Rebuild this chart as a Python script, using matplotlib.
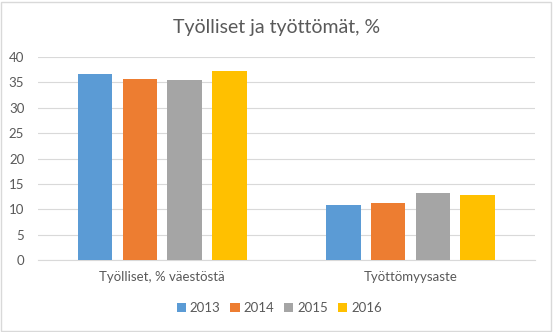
import matplotlib.pyplot as plt
import numpy as np
from matplotlib.patches import Rectangle

categories = ['Työlliset, % väestöstä', 'Työttömyysaste']
years = ['2013', '2014', '2015', '2016']
values_2013 = [36.6, 10.8]
values_2014 = [35.6, 11.3]
values_2015 = [35.4, 13.3]
values_2016 = [37.2, 12.8]
yticks = [0, 5, 10, 15, 20, 25, 30, 35, 40]

series = [values_2013, values_2014, values_2015, values_2016]
colors = ['#5B9BD5', '#ED7D31', '#A5A5A5', '#FFC000']
text_color = '#595959'

plt.rcParams['font.family'] = ['Lato', 'DejaVu Sans']

fig = plt.figure(figsize=(5.53, 3.32), dpi=100)
ax = fig.add_axes([0.069, 0.217, 0.8976, 0.611])

x = np.arange(len(categories))
width = 0.139
step = 0.18
for i, (vals, col, yr) in enumerate(zip(series, colors, years)):
    ax.bar(x + (i - 1.5) * step, vals, width, color=col, label=yr, zorder=3)

ax.set_xlim(-0.5, 1.5)
ax.set_ylim(0, 40)
ax.set_yticks(yticks)
ax.set_xticks(x)
ax.set_xticklabels(categories)
ax.grid(axis='y', color='#D9D9D9', linewidth=0.8, zorder=0)
for s in ['top', 'right', 'left']:
    ax.spines[s].set_visible(False)
ax.spines['bottom'].set_color('#D9D9D9')
ax.tick_params(axis='both', length=0, colors=text_color, labelsize=9.5)
ax.tick_params(axis='x', pad=8)
ax.tick_params(axis='y', pad=10)

fig.text(0.5, 0.918, 'Työlliset ja työttömät, %', ha='center', va='center',
         fontsize=14, color=text_color)

leg = fig.legend(loc='center', bbox_to_anchor=(0.505, 0.073), ncol=4, frameon=False,
                 fontsize=9.5, handlelength=0.7, handleheight=0.7, handletextpad=0.3,
                 columnspacing=0.75)
for t in leg.get_texts():
    t.set_color(text_color)

fig.patches.append(Rectangle((0.002, 0.003), 0.995, 0.992, transform=fig.transFigure,
                             fill=False, edgecolor='#D9D9D9', linewidth=1))

fig.savefig('out.png', dpi=100)
